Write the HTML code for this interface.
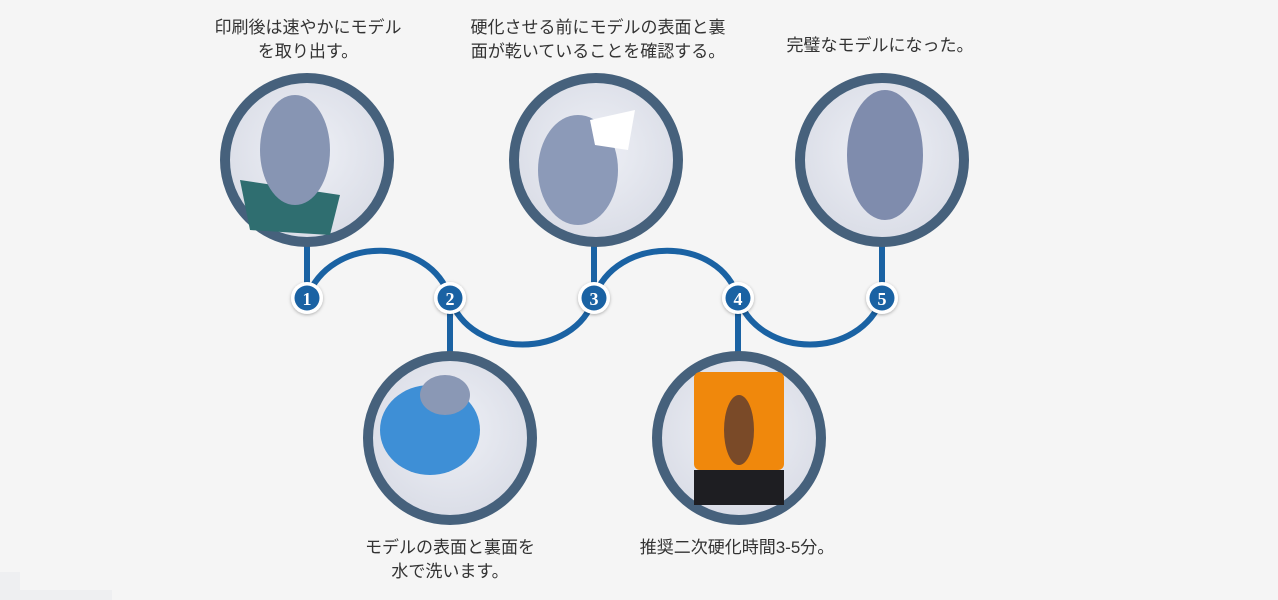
<!DOCTYPE html>
<html><head><meta charset="utf-8">
<style>
html,body{margin:0;padding:0;background:#f5f5f5;}
body{width:1278px;height:600px;overflow:hidden;position:relative;font-family:"Liberation Sans","Noto Sans CJK JP",sans-serif;}
.t{position:absolute;text-align:center;font-size:17px;line-height:24px;color:#333;white-space:nowrap;transform:translateX(-50%);}
</style></head><body>
<div style="position:absolute;left:0;top:572px;width:20px;height:28px;background:#eeeff1"></div>
<div style="position:absolute;left:20px;top:590px;width:92px;height:10px;background:#eeeff1"></div>
<svg width="1278" height="600" style="position:absolute;left:0;top:0">
<defs>
<radialGradient id="g" cx="50%" cy="45%" r="60%"><stop offset="0" stop-color="#eef0f6"/><stop offset="1" stop-color="#d8dbe5"/></radialGradient>
<filter id="sh" x="-50%" y="-50%" width="200%" height="200%"><feDropShadow dx="0" dy="1" stdDeviation="1.5" flood-color="#000" flood-opacity="0.3"/></filter>
</defs>
<g stroke="#1a62a3" stroke-width="6" fill="none">
<path d="M307 298 C330 235 430 235 450 298 C470 360 575 360 594 298 C615 235 720 235 738 298 C760 360 860 360 882 298"/>
<line x1="307" y1="240" x2="307" y2="298"/>
<line x1="594" y1="240" x2="594" y2="298"/>
<line x1="882" y1="240" x2="882" y2="298"/>
<line x1="450" y1="298" x2="450" y2="360"/>
<line x1="738" y1="298" x2="738" y2="360"/>
</g>
<g stroke="#46617c" stroke-width="10">
<circle cx="307" cy="160" r="82" fill="url(#g)"/>
<circle cx="596" cy="160" r="82" fill="url(#g)"/>
<circle cx="882" cy="160" r="82" fill="url(#g)"/>
<circle cx="450" cy="438" r="82" fill="url(#g)"/>
<circle cx="739" cy="438" r="82" fill="url(#g)"/>
</g>
<!-- photo approximations -->
<path d="M240 180 L340 195 L330 235 L250 230 Z" fill="#2f6e70"/>
<ellipse cx="295" cy="150" rx="35" ry="55" fill="#8795b3"/>
<ellipse cx="578" cy="170" rx="40" ry="55" fill="#8c9ab8"/>
<path d="M590 120 L635 110 L628 150 L595 145Z" fill="#fff"/>
<ellipse cx="885" cy="155" rx="38" ry="65" fill="#7f8cad"/>
<ellipse cx="430" cy="430" rx="50" ry="45" fill="#3e8fd6"/>
<ellipse cx="445" cy="395" rx="25" ry="20" fill="#8a98b5"/>
<rect x="694" y="372" width="90" height="98" rx="6" fill="#f0880c"/>
<rect x="694" y="470" width="90" height="35" fill="#1e1e22"/>
<ellipse cx="739" cy="430" rx="15" ry="35" fill="#7a4a28"/>
<g filter="url(#sh)">
<circle cx="307" cy="298" r="16" fill="#fff"/><circle cx="450" cy="298" r="16" fill="#fff"/><circle cx="594" cy="298" r="16" fill="#fff"/><circle cx="738" cy="298" r="16" fill="#fff"/><circle cx="882" cy="298" r="16" fill="#fff"/>
</g>
<g fill="#1a62a3"><circle cx="307" cy="298" r="12.5"/><circle cx="450" cy="298" r="12.5"/><circle cx="594" cy="298" r="12.5"/><circle cx="738" cy="298" r="12.5"/><circle cx="882" cy="298" r="12.5"/></g>
<g fill="#fff" font-family="Liberation Serif,serif" font-weight="bold" font-size="18" text-anchor="middle">
<text x="307" y="305">1</text><text x="450" y="305">2</text><text x="594" y="305">3</text><text x="738" y="305">4</text><text x="882" y="305">5</text>
</g>
</svg>
<div class="t" style="left:308px;top:16px">印刷後は速やかにモデル<br>を取り出す。</div>
<div class="t" style="left:598px;top:16px">硬化させる前にモデルの表面と裏<br>面が乾いていることを確認する。</div>
<div class="t" style="left:880px;top:34px">完璧なモデルになった。</div>
<div class="t" style="left:450px;top:536px">モデルの表面と裏面を<br>水で洗います。</div>
<div class="t" style="left:737px;top:536px">推奨二次硬化時間3-5分。</div>
</body></html>
